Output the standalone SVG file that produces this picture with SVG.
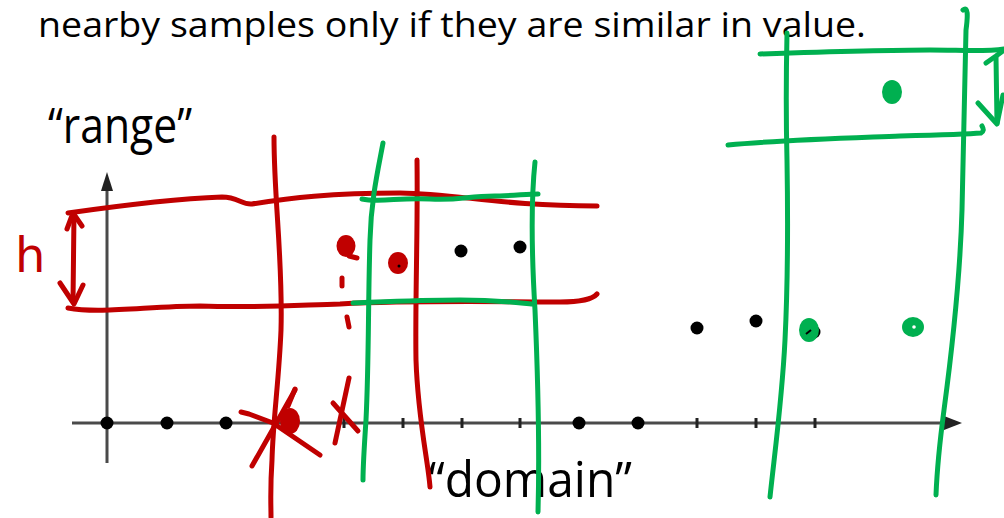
<svg xmlns="http://www.w3.org/2000/svg" width="1004" height="518" viewBox="0 0 1004 518">
<style>
.ax{stroke:#4a4a4a;stroke-width:3;fill:none}
.axh{fill:#222}
.tk{stroke:#222;stroke-width:3}
.dot{fill:#000}
.red{stroke:#c00000;stroke-width:5;fill:none;stroke-linecap:round;stroke-linejoin:round}
.redf{fill:#c00000}
.grn{stroke:#00b050;stroke-width:5;fill:none;stroke-linecap:round;stroke-linejoin:round}
.grnf{fill:#00b050}
.txt{font-family:"Open Sans","Noto Sans",sans-serif;fill:#000}
</style>
<rect width="1004" height="518" fill="#fff"/>
<g id="title"><text class="txt" x="38" y="37" font-size="34" textLength="828" lengthAdjust="spacingAndGlyphs">nearby samples only if they are similar in value.</text></g>
<g id="range-label"><text class="txt" x="48" y="143" font-size="50" textLength="144" lengthAdjust="spacingAndGlyphs">“range”</text></g>
<g id="domain-label"><text class="txt" x="428" y="497" font-size="49" textLength="204" lengthAdjust="spacingAndGlyphs">“domain”</text></g>
<g id="axes">
<line class="ax" x1="72" y1="423" x2="950" y2="423"/>
<polygon class="axh" points="944,416 962,423 944,430"/>
<line class="ax" x1="107" y1="463" x2="107" y2="186"/>
<polygon class="axh" points="101,191 107,172 113,191"/>
<line class="tk" x1="344" y1="418" x2="344" y2="428"/>
<line class="tk" x1="403" y1="418" x2="403" y2="428"/>
<line class="tk" x1="462" y1="418" x2="462" y2="428"/>
<line class="tk" x1="520" y1="418" x2="520" y2="428"/>
<line class="tk" x1="697" y1="418" x2="697" y2="428"/>
<line class="tk" x1="756" y1="418" x2="756" y2="428"/>
<line class="tk" x1="815" y1="418" x2="815" y2="428"/>
</g>
<g id="samples">
<circle class="dot" cx="107" cy="423" r="6.5"/>
<circle class="dot" cx="167" cy="423" r="6.5"/>
<circle class="dot" cx="226" cy="423" r="6.5"/>
<circle class="dot" cx="579" cy="423" r="6.5"/>
<circle class="dot" cx="638" cy="423" r="6.5"/>
<circle class="dot" cx="461" cy="251" r="6.5"/>
<circle class="dot" cx="520" cy="247" r="6.5"/>
<circle class="dot" cx="697" cy="328" r="6.5"/>
<circle class="dot" cx="756" cy="321" r="6.5"/>
<circle class="dot" cx="814" cy="332" r="6.5"/>
</g>
<g id="red-annotations">
<path class="red" d="M68,213 C110,207 170,199 222,197 C238,197 242,205 252,204 C290,198 330,193 400,193 C460,194 500,206 597,206"/>
<path class="red" d="M68,308 C100,314 150,306 200,306 C260,308 300,305 340,304 C420,300 500,302 560,302 Q590,302 597,294"/>
<path class="red" d="M74,214 L73,302"/>
<path class="red" d="M67,229 L73,213 L82,226"/>
<path class="red" d="M60,283 L74,304 L83,285"/>
<text x="15" y="272" font-size="48" font-family="'DejaVu Sans',sans-serif" fill="#c00000">h</text>
<path class="red" d="M274,137 C274,200 283,260 281,330 C279,380 273,420 272,460 C270,490 271,505 271,517"/>
<path class="red" d="M417,160 C418,230 415,300 416,360 C418,420 428,460 430,487"/>
<ellipse class="redf" cx="290" cy="421" rx="10" ry="13"/>
<path class="red" d="M295,389 L288,406"/>
<path class="red" d="M241,412 L249,414 L273,423 L320,455"/>
<path class="red" d="M252,466 L295,390"/>
<path class="red" d="M333,403 L358,431"/>
<path class="red" d="M335,443 L349,378"/>
<path class="red" d="M342,278 L342,286"/>
<path class="red" d="M347,317 L349,327"/>
<ellipse class="redf" cx="346" cy="246" rx="9.5" ry="11"/>
<path class="red" d="M349,256 L357,258"/>
<ellipse class="redf" cx="398" cy="263" rx="10" ry="11"/>
<circle class="dot" cx="399" cy="266" r="1.5"/>
</g>
<g id="green-annotations">
<path class="grn" d="M383,143 C378,170 371,200 370,240 C368,300 369,360 366,420 C364,450 363,470 363,480"/>
<path class="grn" d="M535,162 C531,200 532,260 535,310 C538,380 540,440 538,512"/>
<path class="grn" d="M362,199 C380,203 400,197 430,199 C460,201 470,195 500,196 C520,195 530,194 538,194"/>
<path class="grn" d="M353,303 C380,302 420,300 460,300 C500,300 520,303 533,304"/>
<path class="grn" d="M787,33 C786,80 786,120 787,160 C788,220 788,280 785,340 C782,400 775,450 770,497"/>
<path class="grn" d="M963,10 C968,6 968,15 966,30 C965,80 964,140 962,210 C960,280 952,350 944,410 C940,440 937,470 936,495"/>
<path class="grn" d="M760,54 C820,52 880,50 930,50 C960,50 985,52 1004,49"/>
<path class="grn" d="M728,145 C780,140 850,138 900,136 C940,135 970,134 981,133 Q985,131 982,126"/>
<path class="grn" d="M996,57 L997,123"/>
<path class="grn" d="M986,63 L996,56 L1004,50"/>
<path class="grn" d="M978,103 L997,124 L1003,95"/>
<ellipse class="grnf" cx="892" cy="92" rx="10" ry="12"/>
<ellipse class="grnf" cx="809" cy="330" rx="10" ry="12"/>
<path d="M806,334 L811,330" stroke="#000" stroke-width="2"/>
<ellipse class="grnf" cx="913" cy="327" rx="11" ry="10"/>
<circle cx="914" cy="327" r="1.8" fill="#fff"/>
</g>
</svg>
